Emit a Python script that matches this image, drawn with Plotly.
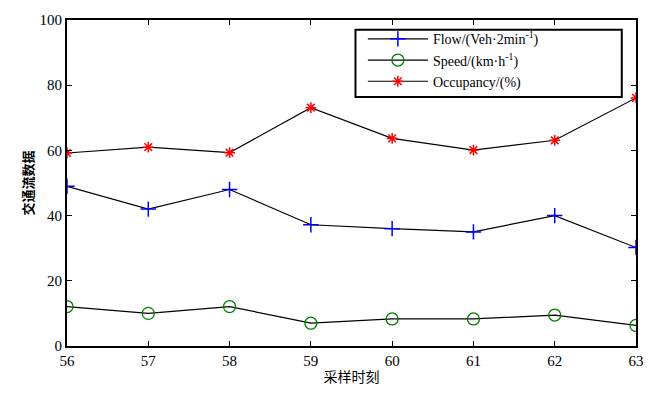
import plotly.graph_objects as go

times = [56, 57, 58, 59, 60, 61, 62, 63]
flow = [49, 42, 48, 37.2, 36, 35, 40, 30.2]
speed = [12.1, 10, 12.1, 7, 8.3, 8.3, 9.5, 6.3]
occupancy = [59.2, 61, 59.3, 73.1, 63.7, 60.1, 63.1, 76.1]

names = ["Flow/(Veh·2min<sup>-1</sup>)", "Speed/(km·h<sup>-1</sup>)", "Occupancy/(%)"]

SERIF = "Liberation Serif"

fig = go.Figure()
fig.add_trace(go.Scatter(x=times, y=flow, mode="lines+markers", name=names[0],
                         line=dict(color="black", width=1.2),
                         marker=dict(symbol="cross-thin-open", size=11, color="blue",
                                     line=dict(color="blue", width=1.5))))
fig.add_trace(go.Scatter(x=times, y=speed, mode="lines+markers", name=names[1],
                         line=dict(color="black", width=1.2),
                         marker=dict(symbol="circle-open", size=12, color="green",
                                     line=dict(color="green", width=1.3))))
fig.add_trace(go.Scatter(x=times, y=occupancy, mode="lines+markers", name=names[2],
                         line=dict(color="black", width=1.2),
                         marker=dict(symbol="asterisk-open", size=9, color="red",
                                     line=dict(color="red", width=1.5))))

axis_common = dict(showgrid=False, zeroline=False, showline=True, linecolor="black",
                   linewidth=2, mirror="ticks", ticks="inside", ticklen=5,
                   tickcolor="black", tickfont=dict(family=SERIF, size=15, color="black"))

fig.update_xaxes(range=[56, 63], tickvals=times, **axis_common,
                 title=dict(text="采样时刻", font=dict(family="Noto Sans CJK SC", size=14, color="black"),
                            standoff=4))
fig.update_yaxes(range=[0, 100], tickvals=[0, 20, 40, 60, 80, 100], **axis_common,
                 title=dict(text="<b>交通流数据</b>", font=dict(family="Noto Sans CJK SC", size=13, color="black"),
                            standoff=3))

fig.add_shape(type="rect", xref="paper", yref="paper",
              x0=0.507, x1=0.975, y0=0.764, y1=0.970,
              line=dict(color="black", width=2), fillcolor="white", layer="below")

fig.update_layout(
    width=656, height=395,
    margin=dict(l=67, r=19, t=17, b=47),
    plot_bgcolor="white", paper_bgcolor="white",
    showlegend=True,
    legend=dict(x=0.52, y=0.99, xanchor="left", yanchor="top",
                borderwidth=0, bgcolor="rgba(0,0,0,0)",
                font=dict(family=SERIF, size=14, color="black"),
                tracegroupgap=0, itemwidth=60),
)

fig.write_html("out.html")
